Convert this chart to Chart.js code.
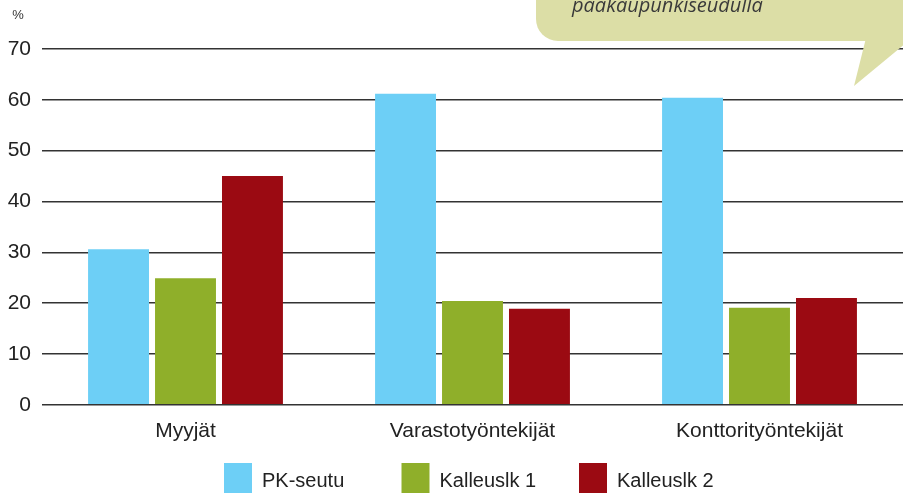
<!DOCTYPE html>
<html lang="fi">
<head>
<meta charset="utf-8">
<title>Ammattiryhmät</title>
<script src="https://cdn.jsdelivr.net/npm/chart.js@4"></script>
<style>
  html, body { margin: 0; padding: 0; background: #fff; }
  #wrap { position: relative; width: 903px; height: 496px; }
</style>
</head>
<body>
<div id="wrap"><canvas id="chart" width="903" height="496"></canvas></div>
<script>
// Osuudet (%) ammattiryhmittäin
const categories = ['Myyjät', 'Varastotyöntekijät', 'Konttorityöntekijät'];
const seriesNames = ['PK-seutu', 'Kalleuslk 1', 'Kalleuslk 2'];
const pkSeutu = [30.6, 61.2, 60.4];
const kalleuslk1 = [24.9, 20.4, 19.1];
const kalleuslk2 = [45.0, 18.9, 21.0];
const yTicks = [0, 10, 20, 30, 40, 50, 60, 70];
const unitLabel = '%';
const bubbleText = 'pääkaupunkiseudulla';

const colors = ['#6dcff6', '#8faf2a', '#9b0a12'];
const axisFont = '"Liberation Sans", Arial, sans-serif';

// puhekupla, yksikkö ja selite piirretään itse
const extras = {
    id: 'extras',
    afterDraw(chart) {
        const ctx = chart.ctx;
        ctx.save();

        // puhekupla oikeassa yläkulmassa
        ctx.fillStyle = '#dcdea6';
        ctx.beginPath();
        ctx.roundRect(536, -40, 420, 81, 22);
        ctx.fill();
        ctx.beginPath();
        ctx.moveTo(866, 38);
        ctx.lineTo(854, 86);
        ctx.lineTo(912, 38);
        ctx.closePath();
        ctx.fill();
        ctx.fillStyle = '#3a3a3a';
        ctx.font = 'italic 20px "Open Sans", sans-serif';
        ctx.textBaseline = 'alphabetic';
        ctx.textAlign = 'left';
        ctx.fillText(bubbleText, 572, 12);

        // yksikkö y-akselin yläpuolella
        ctx.fillStyle = '#333';
        ctx.font = '13px ' + axisFont;
        ctx.textAlign = 'center';
        ctx.textBaseline = 'middle';
        ctx.fillText(unitLabel, 18, 15);

        // selite
        ctx.textAlign = 'left';
        ctx.font = '20px ' + axisFont;
        chart.data.datasets.forEach((ds, i) => {
            const x = 224 + i * 177.5;
            ctx.fillStyle = ds.backgroundColor;
            ctx.fillRect(x, 463, 28, 30);
            ctx.fillStyle = '#222';
            ctx.fillText(ds.label, x + 38, 481);
        });
        ctx.restore();
    }
};

const values = [pkSeutu, kalleuslk1, kalleuslk2];

new Chart(document.getElementById('chart'), {
    type: 'bar',
    data: {
        labels: categories,
        datasets: seriesNames.map((name, i) => ({
            label: name,
            data: values[i],
            backgroundColor: colors[i],
            borderWidth: 0,
            categoryPercentage: 0.70,
            barPercentage: 0.91
        }))
    },
    options: {
        responsive: false,
        animation: false,
        layout: { padding: { top: 49, right: 0, bottom: 46, left: 0 } },
        plugins: {
            legend: { display: false },
            tooltip: { enabled: false }
        },
        scales: {
            x: {
                grid: { display: false },
                border: { display: false },
                ticks: {
                    color: '#222',
                    padding: 6,
                    font: { family: axisFont, size: 21 }
                }
            },
            y: {
                min: 0,
                max: 70,
                z: 1,
                afterFit: (axis) => { axis.width = 42; },
                afterBuildTicks: (axis) => { axis.ticks = yTicks.map(v => ({ value: v })); },
                grid: { color: '#333', lineWidth: 1.5, drawTicks: false },
                border: { display: false },
                ticks: {
                    color: '#222',
                    padding: 11,
                    font: { family: axisFont, size: 21 }
                }
            }
        }
    },
    plugins: [extras]
});
</script>
</body>
</html>
